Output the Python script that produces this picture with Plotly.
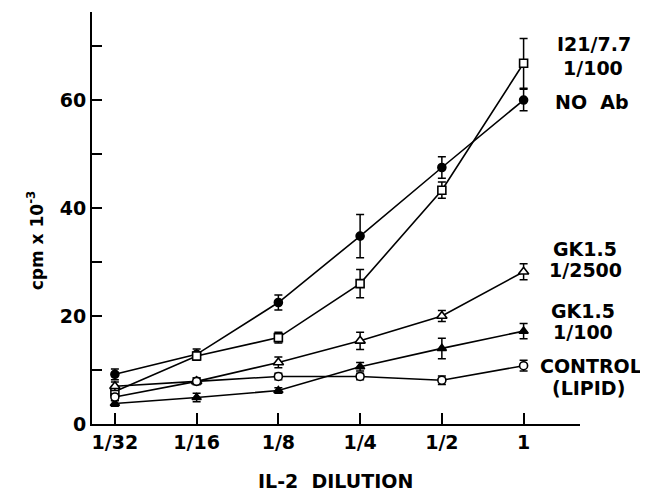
import plotly.graph_objects as go

dilutions = ["1/32", "1/16", "1/8", "1/4", "1/2", "1"]
xpos = [0, 1, 2, 3, 4, 5]

no_ab = [9.2, 12.9, 22.5, 34.8, 47.5, 60.0]
no_ab_err = [1.0, 1.0, 1.4, 4.0, 2.0, 2.0]

i21 = [6.0, 12.6, 16.0, 26.0, 43.3, 66.8]
i21_err = [1.0, 0.8, 1.0, 2.6, 1.5, 4.6]

gk2500 = [7.0, 7.9, 11.4, 15.4, 20.0, 28.2]
gk2500_err = [0.8, 0.6, 1.0, 1.6, 1.0, 1.5]

gk100 = [3.8, 4.9, 6.2, 10.6, 14.0, 17.2]
gk100_err = [0.5, 0.8, 0.5, 0.8, 1.9, 1.4]

control = [5.0, 7.9, 8.8, 8.8, 8.1, 10.8]
control_err = [0.6, 0.6, 0.6, 0.6, 0.8, 1.0]

ytick_vals = [0, 20, 40, 60]
ytick_text = ["0", "20", "40", "60"]

series = [
    (no_ab, no_ab_err, "circle", "black", 8),
    (i21, i21_err, "square", "white", 8),
    (gk2500, gk2500_err, "triangle-up", "white", 9),
    (gk100, gk100_err, "triangle-up", "black", 8),
    (control, control_err, "circle", "white", 8),
]

fig = go.Figure()
for ys, errs, sym, fill, size in series:
    fig.add_trace(go.Scatter(
        x=xpos, y=ys, mode="lines+markers",
        line=dict(color="black", width=1.6),
        marker=dict(symbol=sym, size=size, color=fill,
                    line=dict(color="black", width=1.6)),
        error_y=dict(type="data", array=errs, color="black", thickness=1.5, width=4),
        showlegend=False, cliponaxis=False,
    ))

font_bold = dict(family="DejaVu Sans, Arial, sans-serif", color="black", weight="bold")

labels = [
    ("I21/7.7", 1.029, 70.3),
    ("1/100", 1.027, 66.0),
    ("NO\u00a0\u00a0Ab", 1.025, 59.6),
    ("GK1.5", 1.010, 32.5),
    ("1/2500", 1.012, 28.6),
    ("GK1.5", 1.006, 20.9),
    ("1/100", 1.006, 17.0),
    ("CONTROL", 1.023, 10.7),
    ("(LIPID)", 1.018, 6.6),
]
annotations = []
for txt, xp, yv in labels:
    annotations.append(dict(text=txt, x=xp, y=yv, xref="paper", yref="y",
                            showarrow=False, xanchor="center", yanchor="middle",
                            font=dict(size=19, **font_bold)))
annotations.append(dict(text="IL-2\u00a0\u00a0DILUTION", x=0.498, y=-0.138, xref="paper", yref="paper",
                        showarrow=False, xanchor="center", yanchor="middle",
                        font=dict(size=19, **font_bold)))
annotations.append(dict(text="cpm x 10<sup>-3</sup>", x=-0.115, y=34.0, xref="paper", yref="y",
                        showarrow=False, xanchor="center", yanchor="middle", textangle=-90,
                        font=dict(size=17, **font_bold)))

fig.update_layout(
    width=640, height=484,
    margin=dict(l=84, r=68, t=4, b=68),
    paper_bgcolor="white", plot_bgcolor="white",
    annotations=annotations,
    xaxis=dict(range=[-0.28, 5.69], tickvals=xpos, ticktext=dilutions,
               showgrid=False, zeroline=False, showline=True, linecolor="black", linewidth=2,
               ticks="inside", ticklen=11, tickwidth=1.5, tickcolor="black",
               tickfont=dict(size=19, **font_bold), automargin=False),
    yaxis=dict(range=[0, 76.3], tickvals=ytick_vals, ticktext=ytick_text,
               showgrid=False, zeroline=False, showline=True, linecolor="black", linewidth=2,
               ticks="inside", ticklen=10, tickwidth=1.5, tickcolor="black",
               minor=dict(ticks="inside", tick0=0, dtick=10, ticklen=10, tickwidth=1.5,
                          tickcolor="black", showgrid=False),
               tickfont=dict(size=19, **font_bold), automargin=False),
)

fig.write_html("out.html")
